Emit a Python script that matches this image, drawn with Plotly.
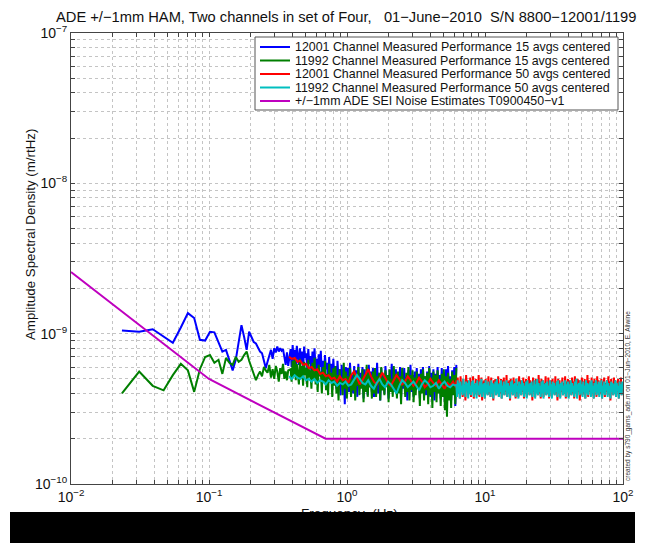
import numpy as np
import plotly.graph_objects as go

# ---------------- DATA (amplitudes in units of 1e-10 m/rtHz) ----------------
UNIT = 1e-10

# 12001 channel, 15 avgs: low-frequency bins (Hz) and values
blue_lo_f = [0.0234, 0.0312, 0.0391, 0.0469, 0.0547, 0.0625, 0.0703, 0.0781, 0.0859, 0.0938,
             0.1016, 0.1094, 0.1172, 0.1250, 0.1328, 0.1406, 0.1484, 0.1563, 0.1641, 0.1719,
             0.1797, 0.1875, 0.1953, 0.2031, 0.2109, 0.2188, 0.2266, 0.2344, 0.2422, 0.2500,
             0.2578, 0.2656, 0.2734, 0.2813, 0.2891, 0.2969, 0.3047, 0.3125, 0.3203, 0.3281,
             0.3359, 0.3438, 0.3516, 0.3594, 0.3672, 0.3750]
blue_lo_v = [10.5, 10.3, 10.7, 9.6, 8.7, 11.0, 13.7, 12.7, 9.1, 9.0,
             10.3, 10.2, 8.8, 7.6, 7.8, 6.5, 5.7, 6.7, 9.0, 11.4,
             9.5, 7.8, 10.3, 9.5, 8.8, 8.6, 8.0, 7.6, 7.4, 6.5,
             5.9, 6.5, 7.2, 7.8, 6.8, 8.0, 7.5, 8.2, 7.6, 8.0,
             7.7, 7.9, 7.0, 6.2, 7.5, 6.1]
blue_hi_range = (0.39, 6.2)
blue_hi_v = [7.9, 6.0, 8.4, 6.6, 7.8, 5.9, 8.3, 7.0, 6.2, 8.0, 6.4, 7.6, 5.6, 8.2, 6.9, 7.4, 5.8, 7.9, 6.3, 7.1,
             5.4, 7.6, 6.1, 8.0, 5.7, 6.8, 5.1, 7.3, 6.0, 7.7, 5.3, 6.6, 4.9, 7.2, 5.8, 6.4, 4.7, 7.0, 5.5, 6.3,
             4.6, 6.8, 5.2, 6.1, 4.3, 6.6, 5.0, 5.8, 3.9, 6.2, 4.8, 5.6, 3.4, 6.0, 4.5, 5.9, 4.1, 6.4, 4.7, 5.3,
             4.0, 6.1, 4.6, 5.7, 3.8, 6.3, 4.4, 5.5, 4.9, 6.0, 3.7, 5.8, 4.3, 5.2, 3.9, 6.2, 4.5, 5.6, 4.1, 5.9,
             3.8, 5.4, 4.7, 6.4, 4.0, 5.1, 3.6, 5.9, 4.4, 5.3, 4.0, 6.1, 4.6, 5.0, 3.7, 5.7, 4.2, 6.3, 4.8, 5.5,
             4.1, 5.8, 3.9, 5.2, 4.5, 6.0, 3.8, 5.5, 4.3, 5.9, 4.0, 5.1, 3.6, 5.7, 4.4, 6.2, 4.1, 5.3, 3.8, 5.6,
             4.2, 5.9, 4.6, 5.4, 3.7, 5.8, 4.3, 6.0, 4.0, 5.2, 3.9, 5.6, 4.5, 6.1, 3.8, 5.5, 4.2, 5.8, 3.6, 5.4,
             4.1, 6.0, 4.4, 5.3, 3.7, 5.9, 4.2, 5.5, 3.5, 5.8, 4.0, 6.1, 4.3, 5.2, 3.6, 5.7, 4.1, 6.0, 3.3, 6.2]

# 11992 channel, 15 avgs
green_lo_f = blue_lo_f
green_lo_v = [4.0, 5.6, 4.5, 4.2, 5.3, 6.3, 5.7, 4.1, 5.8, 7.0,
              7.2, 6.4, 6.7, 5.4, 6.9, 6.4, 6.2, 7.0, 6.5, 6.7,
              7.2, 7.6, 6.6, 5.9, 5.3, 4.9, 5.3, 5.6, 5.2, 6.0,
              5.7, 5.5, 6.2, 5.1, 5.8, 5.0, 6.1, 5.6, 4.8, 5.9,
              5.4, 6.3, 5.0, 5.6, 4.9, 5.7]
green_hi_range = (0.39, 6.2)
green_hi_v = [5.8, 4.8, 6.6, 5.2, 7.0, 4.9, 6.3, 5.5, 4.6, 6.8, 5.0, 6.1, 4.5, 6.5, 5.3, 5.9, 4.4, 6.7, 5.1, 5.7,
              4.3, 6.4, 5.0, 6.9, 4.6, 5.8, 4.1, 6.2, 5.2, 5.6, 4.0, 6.0, 4.8, 6.6, 4.2, 5.4, 3.9, 6.3, 4.7, 5.5,
              3.8, 5.9, 4.5, 6.1, 4.0, 5.3, 3.6, 5.8, 4.6, 5.1, 3.9, 6.4, 4.3, 5.6, 3.7, 5.2, 4.4, 5.9, 3.8, 5.0,
              4.2, 5.7, 3.6, 5.4, 4.5, 6.0, 3.9, 5.1, 4.3, 5.8, 3.5, 5.3, 4.1, 6.2, 3.8, 5.5, 4.4, 5.0, 3.7, 5.6,
              4.0, 5.9, 3.8, 5.2, 4.6, 5.5, 3.6, 6.0, 4.2, 5.1, 3.9, 5.7, 4.4, 5.3, 3.5, 5.8, 4.1, 5.0, 3.8, 6.1,
              4.3, 5.4, 3.7, 5.6, 4.0, 5.2, 3.4, 5.9, 4.5, 5.0, 3.8, 5.5, 4.1, 6.0, 3.6, 5.3, 4.2, 5.7, 3.5, 5.1,
              3.9, 5.6, 4.3, 5.0, 3.3, 5.4, 4.0, 5.8, 3.6, 5.2, 4.2, 5.5, 3.4, 5.9, 3.9, 5.1, 3.2, 5.6, 4.1, 5.3,
              3.5, 5.7, 4.0, 5.0, 3.3, 5.4, 3.8, 5.8, 3.1, 5.2, 2.8, 5.5, 3.6, 5.0, 3.2, 5.6, 3.9, 5.3, 3.4, 5.9]

# 12001 channel, 50 avgs
red_lo_range = (0.38, 6.15)
red_lo_v = [7.0, 6.8, 6.9, 6.5, 6.6, 6.2, 6.3, 5.9, 6.0, 5.7, 5.8, 5.4, 5.5, 5.2, 5.3, 5.0, 5.1, 4.8, 5.2, 4.9,
            5.0, 4.7, 5.3, 5.6, 5.1, 4.6, 4.9, 5.4, 5.8, 5.2, 4.8, 4.6, 5.0, 5.5, 5.1, 4.7, 4.5, 4.9, 5.3, 5.0,
            4.6, 4.8, 5.2, 4.9, 4.5, 4.7, 5.1, 4.8, 4.4, 4.6, 5.0, 4.7, 4.5, 4.9, 4.6, 4.3, 4.7, 4.5, 4.8, 4.4]
red_hi_range = (6.2, 100.0)
red_hi_v = [4.9, 3.9, 5.1, 4.0, 4.7, 3.7, 5.2, 4.2, 4.8, 3.8, 5.0, 4.1, 4.6, 3.6, 5.3, 4.3, 4.9, 3.9, 4.7, 4.0,
            5.1, 3.8, 4.8, 4.2, 5.2, 3.7, 4.6, 4.0, 5.0, 3.9, 4.9, 4.3, 5.3, 3.8, 4.7, 4.1, 5.1, 3.6, 4.8, 4.2,
            4.9, 3.7, 5.0, 4.1, 4.6, 3.9, 5.2, 4.0, 4.8, 3.8, 5.1, 4.2, 4.7, 3.6, 4.9, 4.3, 5.0, 3.9, 4.6, 4.1,
            5.2, 3.8, 4.7, 4.0, 5.0, 3.7, 4.9, 4.2, 5.1, 3.9, 4.6, 4.1, 5.3, 3.8, 4.8, 4.0, 4.9, 3.6, 5.0, 4.2,
            4.7, 3.9, 5.1, 4.1, 4.8, 3.7, 5.0, 4.0, 4.6, 3.8, 5.2, 4.3, 4.9, 3.9, 4.7, 4.1, 5.1, 3.7, 4.8, 4.0,
            5.0, 3.8, 4.6, 4.2, 5.2, 3.9, 4.9, 4.0, 4.7, 3.6, 5.1, 4.1, 4.8, 3.8, 5.0, 4.2, 4.6, 3.9, 5.3, 4.0,
            4.8, 3.7, 5.0, 4.1, 4.9, 3.8, 4.7, 4.2, 5.2, 3.9, 4.6, 4.0, 5.1, 3.7, 4.8, 4.3, 4.9, 3.8, 5.0, 4.1,
            4.7, 3.9, 5.2, 4.0, 4.8, 3.6, 5.0, 4.2, 4.9, 3.8, 4.6, 4.1, 5.1, 3.9, 4.7, 4.0, 5.2, 3.7, 4.8, 4.2,
            5.0, 3.8, 4.9, 4.1, 4.6, 3.9, 5.1, 4.0, 4.8, 3.7, 5.2, 4.2, 4.7, 3.8, 5.0, 4.1, 4.9, 3.6, 4.6, 4.3,
            5.1, 3.9, 4.8, 4.0, 5.0, 3.7, 4.7, 4.2, 5.3, 3.8, 4.9, 4.1, 4.6, 3.9, 5.1, 4.0, 4.8, 3.7, 5.0, 4.2,
            4.7, 3.8, 5.2, 4.1, 4.9, 3.9, 4.6, 4.0, 5.0, 3.7, 4.8, 4.3, 5.1, 3.8, 4.7, 4.1, 4.9, 3.9, 5.2, 4.0,
            4.8, 3.6, 5.0, 4.2, 4.7, 3.9, 5.1, 4.0, 4.9, 3.8, 4.6, 4.1, 5.0, 3.7, 4.8, 4.2, 5.1, 3.9, 4.7, 4.4]

# 11992 channel, 50 avgs
cyan_lo_range = (0.38, 6.15)
cyan_lo_v = [5.2, 5.0, 5.3, 5.1, 5.0, 5.2, 4.9, 5.0, 4.8, 5.0, 4.7, 4.9, 4.8, 4.6, 4.9, 4.7, 4.8, 4.5, 4.7, 4.6,
             4.8, 4.5, 4.6, 4.9, 5.3, 5.0, 4.7, 4.6, 4.9, 4.5, 4.3, 4.7, 5.0, 4.6, 4.4, 4.8, 4.6, 4.3, 4.0, 4.5,
             4.9, 4.7, 4.4, 4.6, 4.8, 4.5, 4.2, 4.6, 4.9, 4.7, 4.4, 4.5, 4.7, 4.3, 4.6, 4.8, 4.5, 4.4, 4.6, 4.5]
cyan_hi_range = (6.2, 100.0)
cyan_hi_v = [4.6, 3.8, 4.9, 4.0, 4.7, 3.7, 4.8, 4.1, 4.5, 3.9, 5.0, 4.0, 4.6, 3.8, 4.8, 4.2, 4.7, 3.7, 4.9, 4.0,
             4.5, 3.9, 4.8, 4.1, 4.9, 3.8, 4.6, 4.0, 4.7, 3.7, 4.9, 4.2, 4.5, 3.9, 4.8, 4.0, 5.0, 3.8, 4.6, 4.1,
             4.7, 3.7, 4.9, 4.0, 4.6, 3.9, 4.8, 4.1, 4.5, 3.8, 4.9, 4.0, 4.7, 3.7, 4.6, 4.2, 4.8, 3.9, 5.0, 4.0,
             4.6, 3.8, 4.7, 4.1, 4.9, 3.7, 4.5, 4.0, 4.8, 3.9, 4.6, 4.2, 4.9, 3.8, 4.7, 4.0, 4.5, 3.7, 4.8, 4.1,
             4.9, 3.9, 4.6, 4.0, 4.7, 3.8, 5.0, 4.1, 4.5, 3.7, 4.8, 4.0, 4.6, 3.9, 4.9, 4.2, 4.7, 3.8, 4.5, 4.0,
             4.8, 3.7, 4.9, 4.1, 4.6, 3.9, 4.7, 4.0, 4.8, 3.8, 4.5, 4.2, 4.9, 3.7, 4.6, 4.0, 5.0, 3.9, 4.7, 4.1,
             4.5, 3.8, 4.8, 4.0, 4.9, 3.7, 4.6, 4.1, 4.7, 3.9, 4.8, 4.0, 4.5, 3.8, 4.9, 4.2, 4.6, 3.7, 4.8, 4.0,
             4.7, 3.9, 4.5, 4.1, 4.8, 3.8, 4.9, 4.0, 4.6, 3.7, 4.7, 4.2, 4.8, 3.9, 4.5, 4.0, 4.9, 3.8, 4.6, 4.1,
             4.8, 3.7, 4.6, 4.0, 4.9, 3.9, 4.7, 4.1, 4.5, 3.8, 4.8, 4.0, 5.0, 3.7, 4.6, 4.2, 4.7, 3.9, 4.9, 4.0,
             4.6, 3.8, 4.8, 4.1, 4.5, 3.7, 4.9, 4.0, 4.7, 3.9, 4.6, 4.2, 4.8, 3.8, 4.9, 4.0, 4.5, 3.7, 4.7, 4.1,
             4.9, 3.9, 4.6, 4.0, 4.8, 3.8, 4.7, 4.1, 4.9, 3.7, 4.5, 4.0, 4.8, 3.9, 4.6, 4.2, 4.9, 3.8, 4.7, 4.0,
             4.5, 3.7, 4.8, 4.1, 4.7, 3.9, 4.6, 4.0, 4.9, 3.8, 4.7, 4.2, 4.5, 3.7, 4.8, 4.0, 4.6, 3.9, 4.8, 4.3]

# SEI noise estimate (T0900450-v1)
mag_f = [0.01, 0.1, 0.7, 100.0]
mag_v = [25.7, 5.0, 2.0, 2.0]

series_names = [
    "12001 Channel Measured Performance 15 avgs centered",
    "11992 Channel Measured Performance 15 avgs centered",
    "12001 Channel Measured Performance 50 avgs centered",
    "11992 Channel Measured Performance 50 avgs centered",
    "+/\u22121mm ADE SEI Noise Estimates T0900450\u2212v1",
]
series_colors = ["#0000ff", "#007f00", "#ff0000", "#00bfbf", "#bf00bf"]

x_major = [0.01, 0.1, 1, 10, 100]
x_major_labels = ["10<sup>\u22122</sup>", "10<sup>\u22121</sup>", "10<sup>0</sup>",
                  "10<sup>1</sup>", "10<sup>2</sup>"]
y_major = [1e-10, 1e-9, 1e-8, 1e-7]
y_major_labels = ["10<sup>\u221210</sup>", "10<sup>\u22129</sup>",
                  "10<sup>\u22128</sup>", "10<sup>\u22127</sup>"]

title_text = ("ADE +/\u22121mm HAM, Two channels in set of Four,   01\u2212June\u22122010  "
              "S/N 8800\u221212001/11992")
ylabel_text = "Amplitude Spectral Density (m/rtHz)"
xlabel_text = "Frequency  (Hz)"
side_text = "created by s790_gams_ade.m on 01\u2212Jun\u22122010, E. Allwine"

# ---------------- BUILD ----------------
def grid(rng, vals):
    return np.geomspace(rng[0], rng[1], len(vals))

def scaled(v):
    return [a * UNIT for a in v]

def full_ticks(majors):
    vals, texts = [], []
    for i, m in enumerate(majors):
        vals.append(m)
        texts.append(None)
        if i < len(majors) - 1:
            for k in range(2, 10):
                vals.append(m * k)
                texts.append("")
    return vals, texts

blue_f = list(blue_lo_f) + list(grid(blue_hi_range, blue_hi_v))
blue_v = scaled(blue_lo_v + blue_hi_v)
green_f = list(green_lo_f) + list(grid(green_hi_range, green_hi_v))
green_v = scaled(green_lo_v + green_hi_v)
red_f = list(grid(red_lo_range, red_lo_v)) + list(grid(red_hi_range, red_hi_v))
red_v = scaled(red_lo_v + red_hi_v)
cyan_f = list(grid(cyan_lo_range, cyan_lo_v)) + list(grid(cyan_hi_range, cyan_hi_v))
cyan_v = scaled(cyan_lo_v + cyan_hi_v)
mag_vs = scaled(mag_v)

fig = go.Figure()
for f, v, name, col in zip([blue_f, green_f, red_f, cyan_f, mag_f],
                           [blue_v, green_v, red_v, cyan_v, mag_vs],
                           series_names, series_colors):
    fig.add_trace(go.Scatter(x=f, y=v, mode="lines", name=name,
                             line=dict(color=col, width=2), showlegend=False))

xt_vals, xt_txt = full_ticks(x_major)
xt_txt = [x_major_labels[x_major.index(v)] if t is None else t for v, t in zip(xt_vals, xt_txt)]
yt_vals, yt_txt = full_ticks(y_major)
yt_txt = [y_major_labels[y_major.index(v)] if t is None else t for v, t in zip(yt_vals, yt_txt)]

# page has an 8px body margin, so the figure is offset by 8px in the window
OFF = 8
W, H = 645, 546
L, T = 71 - OFF, 33 - OFF
PW, PH = 552, 451
R, B = W - L - PW, H - T - PH

def px(x):   # window pixel -> paper x
    return (x - 71) / PW

def py(y):   # window pixel -> paper y
    return (484 - y) / PH

FONT = "Liberation Sans, Arial, Helvetica, sans-serif"
axis_common = dict(type="log", showgrid=True, gridcolor="#c4c4c4", griddash="dot", gridwidth=1,
                   ticks="inside", ticklen=4, tickcolor="#444", showline=True, linecolor="#444",
                   linewidth=1, mirror="ticks", zeroline=False, automargin=False,
                   tickfont=dict(family=FONT, size=14, color="#111"))

fig.update_layout(
    width=W, height=H, margin=dict(l=L, r=R, t=T, b=B, autoexpand=False),
    paper_bgcolor="white", plot_bgcolor="white",
    font=dict(family=FONT, color="#111"),
    xaxis=dict(range=[-2, 2], tickmode="array", tickvals=xt_vals, ticktext=xt_txt, **axis_common),
    yaxis=dict(range=[-10, -7], tickmode="array", tickvals=yt_vals, ticktext=yt_txt, **axis_common),
    showlegend=False,
)

ann = []
ann.append(dict(text=title_text, x=px(54), y=py(17), xref="paper", yref="paper",
                xanchor="left", yanchor="middle", showarrow=False,
                font=dict(family=FONT, size=14.7, color="#111")))
ann.append(dict(text=ylabel_text, x=px(30), y=py(235), xref="paper", yref="paper",
                xanchor="center", yanchor="middle", textangle=-90, showarrow=False,
                font=dict(family=FONT, size=13.3, color="#111")))
ann.append(dict(text=xlabel_text, x=px(349), y=py(514), xref="paper", yref="paper",
                xanchor="center", yanchor="middle", showarrow=False,
                font=dict(family=FONT, size=13.5, color="#111")))
ann.append(dict(text=side_text, x=px(628), y=py(396), xref="paper", yref="paper",
                xanchor="center", yanchor="middle", textangle=-90, showarrow=False,
                font=dict(family=FONT, size=6.5, color="#333")))

shapes = []
# legend box
shapes.append(dict(type="rect", xref="paper", yref="paper", x0=px(255), x1=px(618),
                   y0=py(110), y1=py(37), fillcolor="white", line=dict(color="#555", width=1),
                   layer="above"))
leg_y = [47, 60.5, 74, 87.5, 101]
for name, col, yy in zip(series_names, series_colors, leg_y):
    shapes.append(dict(type="line", xref="paper", yref="paper", x0=px(260), x1=px(290),
                       y0=py(yy), y1=py(yy), line=dict(color=col, width=2), layer="above"))
    ann.append(dict(text=name, x=px(293), y=py(yy), xref="paper", yref="paper",
                    xanchor="left", yanchor="middle", showarrow=False,
                    font=dict(family=FONT, size=12.4, color="#111")))
# black bar across the bottom (drawn as a box after the x label so it hides its lower part)
ann.append(dict(text=" ", x=px(322.5), y=py(527.5), xref="paper", yref="paper",
                xanchor="center", yanchor="middle", showarrow=False,
                width=625, height=31, bgcolor="black", borderpad=0, borderwidth=0,
                font=dict(family=FONT, size=10, color="black")))

fig.update_layout(annotations=ann, shapes=shapes)
fig.write_html("out.html")
